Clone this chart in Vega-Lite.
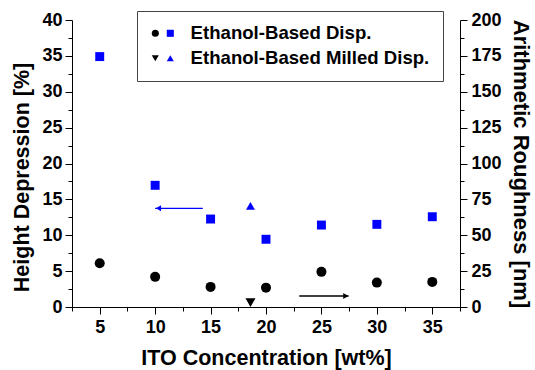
{
  "$schema": "https://vega.github.io/schema/vega-lite/v6.json",
  "width": 388,
  "height": 287,
  "autosize": {"type": "none"},
  "padding": {"left": 72, "top": 20, "right": 75, "bottom": 63},
  "background": "white",
  "config": {
    "view": {"stroke": null},
    "font": "Liberation Sans",
    "axis": {
      "labelFont": "Liberation Sans", "labelFontSize": 18, "labelFontWeight": "bold", "labelColor": "black",
      "titleFont": "Liberation Sans", "titleFontSize": 21.5, "titleFontWeight": "bold", "titleColor": "black",
      "domainColor": "black", "domainWidth": 1, "tickColor": "black", "tickWidth": 1, "grid": false
    },
    "legend": {
      "labelFont": "Liberation Sans", "labelFontSize": 18.6, "labelFontWeight": "bold", "labelColor": "black", "labelLimit": 400
    }
  },
  "datasets": {
    "height": [
      {"ito": 5, "value": 6.1, "series": "Disp. height"},
      {"ito": 10, "value": 4.2, "series": "Disp. height"},
      {"ito": 15, "value": 2.8, "series": "Disp. height"},
      {"ito": 20, "value": 2.7, "series": "Disp. height"},
      {"ito": 25, "value": 4.9, "series": "Disp. height"},
      {"ito": 30, "value": 3.4, "series": "Disp. height"},
      {"ito": 35, "value": 3.5, "series": "Disp. height"},
      {"ito": 18.6, "value": 0.6, "series": "Milled height"}
    ],
    "roughness": [
      {"ito": 5, "value": 174.5, "series": "Disp. roughness"},
      {"ito": 10, "value": 84.8, "series": "Disp. roughness"},
      {"ito": 15, "value": 61.3, "series": "Disp. roughness"},
      {"ito": 20, "value": 47.2, "series": "Disp. roughness"},
      {"ito": 25, "value": 57.1, "series": "Disp. roughness"},
      {"ito": 30, "value": 57.6, "series": "Disp. roughness"},
      {"ito": 35, "value": 62.9, "series": "Disp. roughness"},
      {"ito": 18.6, "value": 70.5, "series": "Milled roughness"}
    ],
    "arrows": [
      {"from": 14.3, "to": 10.0, "y": 13.75, "dir": "left", "head": 10.3},
      {"from": 23.0, "to": 27.45, "y": 1.53, "dir": "right", "head": 27.2}
    ]
  },
  "resolve": {"scale": {"y": "independent", "shape": "independent"}, "axis": {"x": "independent", "y": "independent"}, "legend": {"shape": "independent"}},
  "layer": [
    {
      "data": {"name": "height"},
      "mark": {"type": "point", "filled": true, "opacity": 1, "size": 100, "color": "#000000"},
      "encoding": {
        "x": {"field": "ito", "type": "quantitative",
          "scale": {"domain": [2.5, 37.5], "nice": false, "zero": false},
          "axis": {"orient": "bottom", "title": "ITO Concentration [wt%]", "values": [5, 10, 15, 20, 25, 30, 35], "tickSize": 7, "labelPadding": 4, "titlePadding": 11}},
        "y": {"field": "value", "type": "quantitative",
          "scale": {"domain": [0, 40], "nice": false},
          "axis": {"orient": "left", "title": "Height Depression [%]", "titleY": 157, "values": [0, 5, 10, 15, 20, 25, 30, 35, 40], "tickSize": 7, "labelPadding": 3, "titlePadding": 8}},
        "shape": {"field": "series", "type": "nominal",
          "scale": {"domain": ["Disp. height", "Milled height"], "range": ["circle", "triangle-down"]},
          "legend": {"title": null, "orient": "none", "legendX": 74, "legendY": 4, "padding": 0, "rowPadding": 6, "symbolSize": 50, "symbolFillColor": "#000000", "symbolStrokeColor": "#000000", "labelExpr": "''"}}
      }
    },
    {
      "data": {"name": "roughness"},
      "mark": {"type": "point", "filled": true, "opacity": 1, "size": 80, "color": "#0000ff"},
      "encoding": {
        "x": {"field": "ito", "type": "quantitative", "scale": {"domain": [2.5, 37.5], "nice": false, "zero": false}, "axis": null},
        "y": {"field": "value", "type": "quantitative",
          "scale": {"domain": [0, 200], "nice": false},
          "axis": {"orient": "right", "title": "Arithmetic Roughness [nm]", "titleFontSize": 22, "values": [0, 25, 50, 75, 100, 125, 150, 175, 200], "tickSize": 7, "labelPadding": 4, "titlePadding": 7}},
        "shape": {"field": "series", "type": "nominal",
          "scale": {"domain": ["Disp. roughness", "Milled roughness"], "range": ["square", "triangle-up"]},
          "legend": {"title": null, "orient": "none", "legendX": 65, "legendY": -9, "padding": 13, "rowPadding": 6, "symbolSize": 50, "symbolOffset": 11, "labelOffset": 11, "symbolFillColor": "#0000ff", "symbolStrokeColor": "#0000ff", "strokeColor": "#444",
            "labelExpr": "datum.label == 'Disp. roughness' ? 'Ethanol-Based Disp.' : 'Ethanol-Based Milled Disp.'"}}
      }
    },
    {
      "data": {"name": "roughness"},
      "mark": {"type": "point", "opacity": 0},
      "encoding": {
        "x": {"field": "ito", "type": "quantitative", "scale": {"domain": [2.5, 37.5], "nice": false, "zero": false}, "axis": null},
        "y": {"field": "value", "type": "quantitative",
          "scale": {"domain": [0, 200], "nice": false},
          "axis": {"orient": "right", "title": null, "labels": false, "domain": false, "values": [12.5, 37.5, 62.5, 87.5, 112.5, 137.5, 162.5, 187.5], "tickSize": 4}}
      }
    },
    {
      "data": {"name": "arrows"},
      "transform": [{"filter": "datum.dir == 'left'"}],
      "mark": {"type": "rule", "strokeWidth": 1.3, "color": "#0000ff"},
      "encoding": {
        "x": {"field": "from", "type": "quantitative", "scale": {"domain": [2.5, 37.5], "nice": false, "zero": false},
          "axis": {"orient": "bottom", "title": null, "labels": false, "domain": false, "values": [2.5, 7.5, 12.5, 17.5, 22.5, 27.5, 32.5, 37.5], "tickSize": 4}},
        "x2": {"field": "to"},
        "y": {"field": "y", "type": "quantitative", "scale": {"domain": [0, 40], "nice": false},
          "axis": {"orient": "left", "title": null, "labels": false, "domain": false, "values": [2.5, 7.5, 12.5, 17.5, 22.5, 27.5, 32.5, 37.5], "tickSize": 4}}
      }
    },
    {
      "data": {"name": "arrows"},
      "transform": [{"filter": "datum.dir == 'right'"}],
      "mark": {"type": "rule", "strokeWidth": 1.3, "color": "#000000"},
      "encoding": {
        "x": {"field": "from", "type": "quantitative", "scale": {"domain": [2.5, 37.5], "nice": false, "zero": false}, "axis": null},
        "x2": {"field": "to"},
        "y": {"field": "y", "type": "quantitative", "scale": {"domain": [0, 40], "nice": false}, "axis": null}
      }
    },
    {
      "data": {"name": "arrows"},
      "transform": [{"filter": "datum.dir == 'left'"}],
      "mark": {"type": "point", "filled": true, "opacity": 1, "size": 36, "shape": "triangle-left", "color": "#0000ff"},
      "encoding": {
        "x": {"field": "head", "type": "quantitative", "scale": {"domain": [2.5, 37.5], "nice": false, "zero": false}, "axis": null},
        "y": {"field": "y", "type": "quantitative", "scale": {"domain": [0, 40], "nice": false}, "axis": null}
      }
    },
    {
      "data": {"name": "arrows"},
      "transform": [{"filter": "datum.dir == 'right'"}],
      "mark": {"type": "point", "filled": true, "opacity": 1, "size": 36, "shape": "triangle-right", "color": "#000000"},
      "encoding": {
        "x": {"field": "head", "type": "quantitative", "scale": {"domain": [2.5, 37.5], "nice": false, "zero": false}, "axis": null},
        "y": {"field": "y", "type": "quantitative", "scale": {"domain": [0, 40], "nice": false}, "axis": null}
      }
    }
  ]
}
